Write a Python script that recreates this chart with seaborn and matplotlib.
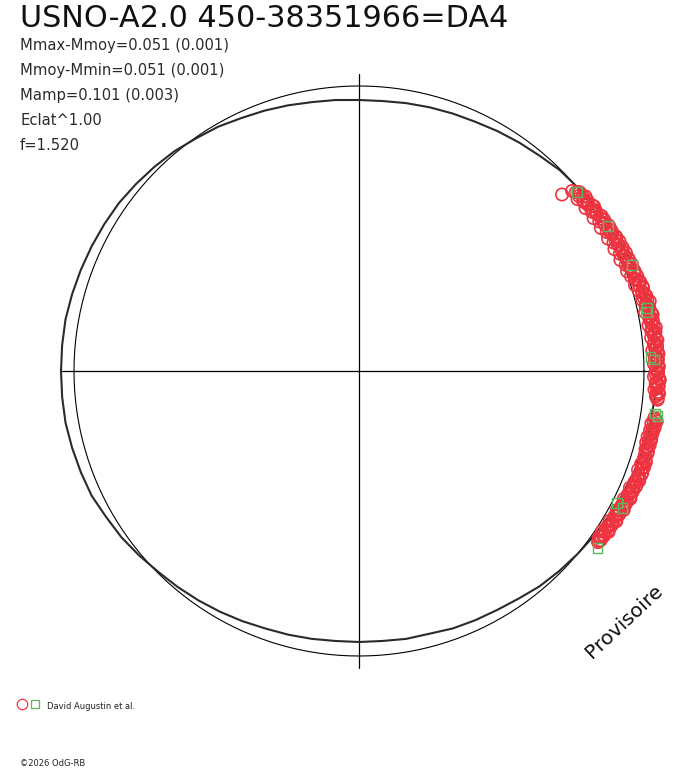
import numpy as np
import matplotlib
matplotlib.use("Agg")
import matplotlib.pyplot as plt
import seaborn as sns

# ---------------------------------------------------------------------------
# Donnees : phase en degres, rayon en pixels
# ---------------------------------------------------------------------------

TITLE = "USNO-A2.0 450-38351966=DA4"
STATS = [
    "Mmax-Mmoy=0.051 (0.001)",
    "Mmoy-Mmin=0.051 (0.001)",
    "Mamp=0.101 (0.003)",
    "Eclat^1.00",
    "f=1.520",
]
OBSERVER = "David Augustin et al."
COPYRIGHT = "\u00a92026 OdG-RB"

# rayon du cercle moyen
MEAN_R = 285

# courbe ajustee, tous les 5 degres
curve_phase = list(range(0, 360, 5))
curve_r = [297, 297, 297, 296, 294, 292, 290, 288, 285.5, 284, 281, 279,
           277, 275, 274, 273, 272, 271, 271, 272, 273, 275, 277, 279,
           282, 284, 287, 289, 291, 293, 294, 295, 296, 297, 298, 298,
           298, 298, 298, 297, 296, 295, 292, 290, 287, 284, 282, 280,
           278, 276, 274, 273, 272, 271, 271, 271, 272, 272, 274, 275,
           276, 278, 281, 283, 285, 287, 289, 291, 293, 295, 296, 297]

# mesures, premiere serie (cercles rouges)
obs_phase = [41.0, 39.5, 39.0, 38.2, 37.6, 37.0, 36.3, 35.7, 35.0, 34.4,
             33.8, 33.1, 32.5, 31.9, 31.2, 30.6, 30.0, 29.3, 28.7, 28.0,
             27.4, 26.8, 26.1, 25.5, 24.9, 24.2, 23.6, 23.0, 22.3, 21.7,
             21.1, 20.4, 19.8, 19.2, 18.5, 17.9, 17.3, 16.6, 16.0, 15.4,
             14.7, 14.1, 13.5, 12.8, 12.2, 11.6, 10.9, 10.3, 9.7, 9.0,
             8.4, 7.8, 7.1, 6.5, 5.9, 5.2, 4.6, 4.0, 3.3, 2.7,
             2.1, 1.4, 0.8, 0.2, -0.5, -1.1, -1.7, -2.4, -3.0, -3.6,
             -4.3, -4.9, -5.5, -9.0, -9.6, -10.2, -10.9, -11.5, -12.1, -12.8,
             -13.4, -14.0, -14.7, -15.3, -16.0, -17.0, -17.6, -18.2, -18.9, -19.5,
             -20.1, -20.8, -21.4, -22.0, -22.7, -23.3, -23.9, -24.6, -25.2, -25.8,
             -26.5, -27.1, -27.7, -28.4, -29.0, -29.6, -30.3, -30.9, -31.5, -32.2,
             -32.8, -33.4, -34.1, -34.7, -35.3]
obs_r = [269, 281, 284, 278, 286, 281, 284, 279, 287, 282,
         285, 280, 288, 283, 286, 281, 289, 284, 287, 282,
         290, 285, 288, 283, 291, 286, 289, 284, 292, 287,
         290, 286, 293, 288, 291, 294, 289, 296, 291, 294,
         297, 292, 299, 294, 297, 292, 299, 295, 298, 293,
         300, 295, 298, 294, 300, 296, 299, 294, 300, 296,
         299, 295, 300, 297, 299, 295, 301, 297, 300, 296,
         301, 298, 300, 299, 302, 297, 301, 297, 300, 296,
         300, 296, 299, 297, 300, 298, 301, 297, 300, 296,
         301, 298, 301, 297, 300, 295, 299, 296, 300, 294,
         298, 295, 299, 293, 297, 294, 298, 292, 296, 293,
         297, 291, 295, 292, 294]

# mesures, deuxieme serie
obs2_phase = [40.2, 39.2, 38.5, 37.9, 37.3, 36.7, 36.0, 35.4, 34.7, 34.1,
              33.5, 32.8, 32.2, 31.6, 30.9, 30.3, 29.7, 29.0, 28.4, 27.7,
              27.1, 26.5, 25.8, 25.2, 24.6, 23.9, 23.3, 22.7, 22.0, 21.4,
              20.8, 20.1, 19.5, 18.9, 18.2, 17.6, 17.0, 16.3, 15.7, 15.1,
              14.4, 13.8, 13.2, 12.5, 11.9, 11.3, 10.6, 10.0, 9.4, 8.7,
              8.1, 7.5, 6.8, 6.2, 5.6, 4.9, 4.3, 3.7, 3.0, 2.4,
              1.8, 1.1, 0.5, -0.2, -0.8, -1.4, -2.1, -2.7, -3.3, -4.0,
              -4.6, -5.2, -9.3, -9.9, -10.5, -11.2, -11.8, -12.4, -13.1, -13.7,
              -14.3, -15.0, -15.6, -16.3, -17.3, -17.9, -18.6, -19.2, -19.8, -20.5,
              -21.1, -21.7, -22.4, -23.0, -23.6, -24.3, -24.9, -25.5, -26.2, -26.8,
              -27.4, -28.1, -28.7, -29.3, -30.0, -30.6, -31.2, -31.9, -32.5, -33.1,
              -33.8, -34.4, -35.0, -35.6]
obs2_r = [279, 283, 281, 284, 282, 285, 283, 286, 284, 286,
          285, 287, 286, 288, 286, 289, 287, 289, 288, 290,
          288, 291, 289, 291, 289, 292, 290, 292, 290, 293,
          291, 293, 292, 294, 292, 295, 293, 296, 294, 296,
          294, 297, 295, 297, 295, 298, 296, 298, 296, 298,
          296, 299, 297, 299, 297, 299, 297, 299, 297, 299,
          297, 299, 297, 299, 297, 300, 298, 300, 298, 300,
          298, 300, 301, 299, 301, 299, 300, 298, 300, 298,
          300, 298, 300, 298, 300, 298, 301, 299, 301, 299,
          300, 298, 300, 298, 299, 297, 299, 297, 298, 296,
          298, 296, 297, 295, 297, 295, 296, 294, 296, 294,
          295, 293, 295, 294]

# points de reference (carres verts)
ref_phase = [39.4, 30.2, 21.2, 12.3, 11.6, 2.7, 2.2, -8.6, -8.2, -27.1, -27.5, -36.6]
ref_r = [282, 288, 293, 295, 293, 292, 295, 302, 299, 290, 297, 297]

RED = "#ee3340"
GREEN = "#5cb85c"

# ---------------------------------------------------------------------------
# Figure
# ---------------------------------------------------------------------------

sns.set_theme(style="white")
plt.rcParams["font.family"] = ["DejaVu Sans"]

W, H = 688, 768
CX, CY, RLIM = 359, 371, 320

fig = plt.figure(figsize=(W / 100, H / 100), dpi=100)
fig.patch.set_facecolor("white")

ax = fig.add_axes([(CX - RLIM) / W, (H - CY - RLIM) / H,
                   2 * RLIM / W, 2 * RLIM / H], projection="polar")
ax.set_facecolor("none")
ax.set_ylim(0, RLIM)
ax.grid(False)
ax.set_xticks([])
ax.set_yticks([])
ax.spines["polar"].set_visible(False)

# axes en croix
for a in (0, 90, 180, 270):
    ax.plot([np.deg2rad(a)] * 2, [0, 297], color="black", lw=0.9, zorder=1)

# cercle moyen
circ_t = np.linspace(0, 2 * np.pi, 361)
ax.plot(circ_t, np.full_like(circ_t, MEAN_R), color="black", lw=0.8, zorder=2)

# courbe ajustee (fermee)
ct = np.deg2rad(curve_phase + curve_phase[:1])
cr = curve_r + curve_r[:1]
sns.lineplot(x=ct, y=cr, sort=False, ax=ax, color="#2a2a2a", lw=1.5,
             zorder=3)

for ph, rr in ((obs_phase, obs_r), (obs2_phase, obs2_r)):
    sns.scatterplot(x=np.deg2rad(ph), y=rr, ax=ax, marker="o", s=78,
                    facecolor="none", edgecolor=RED, linewidth=1.2,
                    clip_on=False, zorder=4)
sns.scatterplot(x=np.deg2rad(ref_phase), y=ref_r, ax=ax, marker="s", s=48,
                facecolor="none", edgecolor=GREEN, linewidth=1.0,
                clip_on=False, zorder=5)


def px_text(x, y, s, **kw):
    fig.text(x / W, 1 - y / H, s, **kw)


px_text(20, 27, TITLE, fontsize=21.8, color="#111111", va="baseline")
for i, line in enumerate(STATS):
    px_text(20, 50 + 25 * i, line, fontsize=10.6, color="#2a2a2a",
            va="baseline")

px_text(624, 621, "Provisoire", fontsize=14.5, color="#111111",
        rotation=43, ha="center", va="center")

# legende
fig.add_artist(plt.Line2D([22 / W], [1 - 704 / H], marker="o", ms=7.5,
                          mfc="none", mec=RED, mew=0.9, ls="none"))
fig.add_artist(plt.Line2D([35 / W], [1 - 704 / H], marker="s", ms=5.5,
                          mfc="none", mec=GREEN, mew=0.9, ls="none"))
px_text(47, 709, OBSERVER, fontsize=6, color="#222222", va="baseline")
px_text(20, 766, COPYRIGHT, fontsize=6, color="#222222", va="baseline")

fig.savefig("out.png", dpi=100, facecolor="white")
